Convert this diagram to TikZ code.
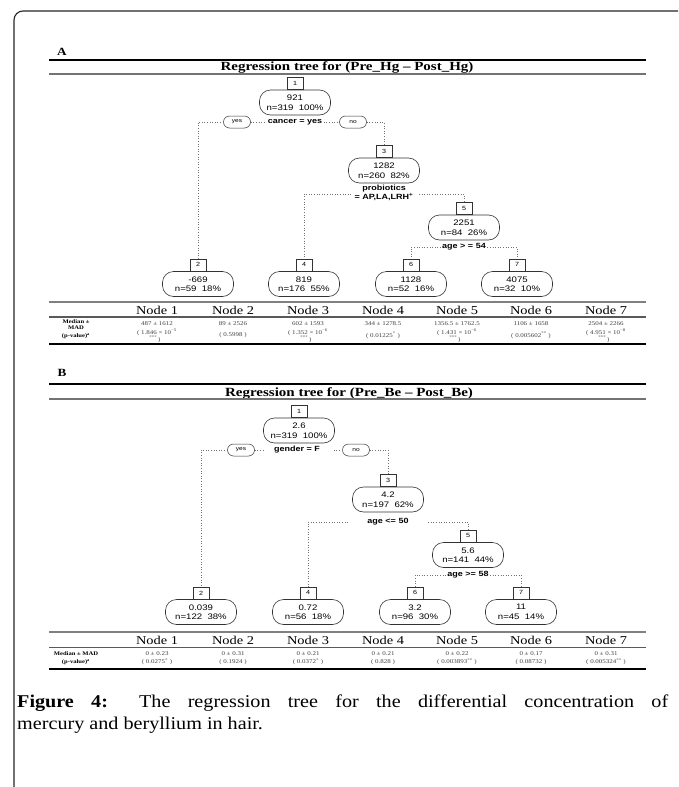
\documentclass[tikz,border=0pt]{standalone}
\usepackage{fontspec}
\setmainfont{Liberation Serif}
\newfontfamily\sansS[FakeStretch=1.2]{Liberation Sans}
\newfontfamily\serS[FakeStretch=1.2]{Liberation Serif}
\newfontfamily\capS[FakeStretch=1.12]{Liberation Serif}
\begin{document}
\begin{tikzpicture}[x=1pt,y=-1pt,
  treenode/.style={draw=black!80, line width=0.6pt, rounded corners=11pt, minimum width=71pt, minimum height=25pt, inner sep=0pt, align=center, font=\sansS\fontsize{8}{9.5}\selectfont},
  numbox/.style={draw=black!80, line width=0.6pt, minimum width=16pt, minimum height=12pt, inner sep=0pt, font=\sansS\fontsize{6}{7}\selectfont},
  pill/.style={draw=black!80, line width=0.5pt, rounded corners=6pt, minimum width=27pt, minimum height=12pt, inner sep=0pt, font=\sansS\fontsize{5.5}{6}\selectfont},
  splitlbl/.style={inner sep=1.5pt, align=center, font=\sansS\bfseries\fontsize{7.5}{8.5}\selectfont},
  dotline/.style={draw=black!55, dotted, line width=0.6pt},
  panellbl/.style={inner sep=0pt, font=\serS\bfseries\fontsize{11}{12}\selectfont},
  ttl/.style={inner sep=0pt, font=\serS\bfseries\fontsize{12.5}{13}\selectfont},
  hdr/.style={inner sep=0pt, font=\serS\fontsize{12}{13}\selectfont},
  cell/.style={inner sep=0pt, align=center, text=black!75, font=\serS\fontsize{5.8}{6.8}\selectfont},
  rowlbl/.style={inner sep=0pt, align=center, font=\serS\bfseries\fontsize{5.5}{6.3}\selectfont},
  thickrule/.style={line width=2pt, black},
  thinrule/.style={line width=1.2pt, black!55},
  toprule/.style={line width=1.5pt, black!50},
  midrule/.style={line width=1.8pt, black!65},
  botrule/.style={line width=2.5pt, black},
  captxt/.style={anchor=base west, inner sep=0pt, font=\capS\fontsize{18}{21}\selectfont}
]
\fill[white] (0,0) rectangle (678,787);
\useasboundingbox (0,0) rectangle (678,787);
% outer frame (top and left only)
\draw[line width=1.1pt, black!85, rounded corners=9pt] (14,787) -- (14,11) -- (678,11);

%================ PANEL A =================
\node[panellbl] (labA) at (62,52) {A};
\draw[thickrule] (49,60) -- (646,60);
\node[ttl] (titA) at (347,67) {Regression tree for (Pre\_Hg – Post\_Hg)};
\draw[thinrule] (49,74) -- (646,74);

\node[treenode] (A1) at (295,102.5) {921\\n=319\ \ 100\%};
\node[numbox, anchor=south] (A1b) at (A1.north) {1};
\node[splitlbl] (A1s) at (295,122) {cancer = yes};
\node[pill] (A1y) at (237,122) {yes};
\node[pill] (A1n) at (353,122) {no};

\node[treenode] (A3) at (384,170.5) {1282\\n=260\ \ 82\%};
\node[numbox, anchor=south] (A3b) at (A3.north) {3};
\node[splitlbl] (A3s) at (384,193) {probiotics\\= AP,LA,LRH\textsuperscript{+}};

\node[treenode] (A5) at (464,227.5) {2251\\n=84\ \ 26\%};
\node[numbox, anchor=south] (A5b) at (A5.north) {5};
\node[splitlbl] (A5s) at (464,247) {age > = 54};

\node[treenode] (A2) at (198,284) {-669\\n=59\ \ 18\%};
\node[numbox, anchor=south] (A2b) at (A2.north) {2};
\node[treenode] (A4) at (304,284) {819\\n=176\ \ 55\%};
\node[numbox, anchor=south] (A4b) at (A4.north) {4};
\node[treenode] (A6) at (411,284) {1128\\n=52\ \ 16\%};
\node[numbox, anchor=south] (A6b) at (A6.north) {6};
\node[treenode] (A7) at (517,284) {4075\\n=32\ \ 10\%};
\node[numbox, anchor=south] (A7b) at (A7.north) {7};

\coordinate (A1L) at (198,122);
\coordinate (A1R) at (384,122);
\coordinate (A3L) at (304,194);
\coordinate (A3R) at (464,194);
\coordinate (A5L) at (411,247);
\coordinate (A5R) at (517,247);
\draw[dotline] (A1y.west) -- (A1L) -- (A2b.north);
\draw[dotline] (A1y.east) -- (A1s.west);
\draw[dotline] (A1s.east) -- (A1n.west);
\draw[dotline] (A1n.east) -- (A1R) -- (A3b.north);
\draw[dotline] ([xshift=-2pt]A3s.west |- A3L) -- (A3L) -- (A4b.north);
\draw[dotline] ([xshift=4pt]A3s.east |- A3R) -- (A3R) -- (A5b.north);
\draw[dotline] (A5s.west) -- (A5L) -- (A6b.north);
\draw[dotline] (A5s.east) -- (A5R) -- (A7b.north);

% table A
\draw[toprule] (49,302) -- (646,302);
\node[hdr] (AH1) at (157,310) {Node 1};
\node[hdr] (AH2) at (233,310) {Node 2};
\node[hdr] (AH3) at (308,310) {Node 3};
\node[hdr] (AH4) at (383,310) {Node 4};
\node[hdr] (AH5) at (457,310) {Node 5};
\node[hdr] (AH6) at (531,310) {Node 6};
\node[hdr] (AH7) at (606,310) {Node 7};
\draw[midrule] (49,317) -- (646,317);
\node[rowlbl] (ARa) at (76,324.5) {Median ±\\MAD};
\node[rowlbl] (ARb) at (76,336.5) {(p-value)\textsuperscript{a}};
\node[cell] (AM1) at (157,324) {487 ± 1612};
\node[cell] (AM2) at (233,324) {89 ± 2526};
\node[cell] (AM3) at (308,324) {602 ± 1593};
\node[cell] (AM4) at (383,324) {344 ± 1278.5};
\node[cell] (AM5) at (457,324) {1356.5 ± 1762.5};
\node[cell] (AM6) at (531,324) {1106 ± 1658};
\node[cell] (AM7) at (606,324) {2504 ± 2266};
\node[cell] (AP1) at (157,332.5) {( 1.846 × 10\textsuperscript{−5}};
\node[cell] (AP1s) at (155,339.5) {\textsuperscript{***}\,)};
\node[cell] (AP2) at (233,335.5) {( 0.5998 )};
\node[cell] (AP3) at (308,332.5) {( 1.352 × 10\textsuperscript{−6}};
\node[cell] (AP3s) at (306,339.5) {\textsuperscript{***}\,)};
\node[cell] (AP4) at (383,335.5) {( 0.01225\textsuperscript{*} )};
\node[cell] (AP5) at (457,332.5) {( 1.431 × 10\textsuperscript{−6}};
\node[cell] (AP5s) at (455,339.5) {\textsuperscript{***}\,)};
\node[cell] (AP6) at (531,335.5) {( 0.005602\textsuperscript{**} )};
\node[cell] (AP7) at (606,332.5) {( 4.951 × 10\textsuperscript{−8}};
\node[cell] (AP7s) at (604,339.5) {\textsuperscript{***}\,)};
\draw[botrule] (49,344) -- (646,344);

%================ PANEL B =================
\node[panellbl] (labB) at (62,373) {B};
\draw[thickrule] (49,384) -- (646,384);
\node[ttl] (titB) at (349,393) {Regression tree for (Pre\_Be – Post\_Be)};
\draw[thinrule] (49,399) -- (646,399);

\node[treenode] (B1) at (299,430.5) {2.6\\n=319\ \ 100\%};
\node[numbox, anchor=south] (B1b) at (B1.north) {1};
\node[splitlbl] (B1s) at (297,450) {gender = F};
\node[pill] (B1y) at (241,450) {yes};
\node[pill] (B1n) at (356,450) {no};

\node[treenode] (B3) at (388,499.5) {4.2\\n=197\ \ 62\%};
\node[numbox, anchor=south] (B3b) at (B3.north) {3};
\node[splitlbl] (B3s) at (388,522) {age <= 50};

\node[treenode] (B5) at (468,555) {5.6\\n=141\ \ 44\%};
\node[numbox, anchor=south] (B5b) at (B5.north) {5};
\node[splitlbl] (B5s) at (468,575) {age >= 58};

\node[treenode] (B2) at (201,612) {0.039\\n=122\ \ 38\%};
\node[numbox, anchor=south] (B2b) at (B2.north) {2};
\node[treenode] (B4) at (308,612) {0.72\\n=56\ \ 18\%};
\node[numbox, anchor=south] (B4b) at (B4.north) {4};
\node[treenode] (B6) at (415,612) {3.2\\n=96\ \ 30\%};
\node[numbox, anchor=south] (B6b) at (B6.north) {6};
\node[treenode] (B7) at (521,612) {11\\n=45\ \ 14\%};
\node[numbox, anchor=south] (B7b) at (B7.north) {7};

\coordinate (B1L) at (201,450);
\coordinate (B1R) at (388,450);
\coordinate (B3L) at (308,522);
\coordinate (B3R) at (468,522);
\coordinate (B5L) at (415,575);
\coordinate (B5R) at (521,575);
\draw[dotline] (B1y.west) -- (B1L) -- (B2b.north);
\draw[dotline] (B1y.east) -- ++(9,0);
\draw[dotline] (B1n.west) -- ++(-9,0);
\draw[dotline] (B1n.east) -- (B1R) -- (B3b.north);
\draw[dotline] ([xshift=-18pt]B3s.west) -- (B3L) -- (B4b.north);
\draw[dotline] ([xshift=18pt]B3s.east) -- (B3R) -- (B5b.north);
\draw[dotline] (B5s.west) -- (B5L) -- (B6b.north);
\draw[dotline] (B5s.east) -- (B5R) -- (B7b.north);

% table B
\draw[toprule] (49,632) -- (646,632);
\node[hdr] (BH1) at (157,640.5) {Node 1};
\node[hdr] (BH2) at (233,640.5) {Node 2};
\node[hdr] (BH3) at (308,640.5) {Node 3};
\node[hdr] (BH4) at (383,640.5) {Node 4};
\node[hdr] (BH5) at (457,640.5) {Node 5};
\node[hdr] (BH6) at (531,640.5) {Node 6};
\node[hdr] (BH7) at (606,640.5) {Node 7};
\draw[midrule] (49,647.5) -- (646,647.5);
\node[rowlbl] (BRa) at (76,654) {Median ± MAD};
\node[rowlbl] (BRb) at (76,662) {(p-value)\textsuperscript{a}};
\node[cell] (BM1) at (157,654) {0 ± 0.23};
\node[cell] (BM2) at (233,654) {0 ± 0.31};
\node[cell] (BM3) at (308,654) {0 ± 0.21};
\node[cell] (BM4) at (383,654) {0 ± 0.21};
\node[cell] (BM5) at (457,654) {0 ± 0.22};
\node[cell] (BM6) at (531,654) {0 ± 0.17};
\node[cell] (BM7) at (606,654) {0 ± 0.31};
\node[cell] (BP1) at (157,662) {( 0.0275\textsuperscript{*} )};
\node[cell] (BP2) at (233,662) {( 0.1924 )};
\node[cell] (BP3) at (308,662) {( 0.0372\textsuperscript{*} )};
\node[cell] (BP4) at (383,662) {( 0.828 )};
\node[cell] (BP5) at (457,662) {( 0.003893\textsuperscript{**} )};
\node[cell] (BP6) at (531,662) {( 0.08732 )};
\node[cell] (BP7) at (606,662) {( 0.005324\textsuperscript{**} )};
\draw[botrule] (49,669) -- (646,669);

%================ CAPTION =================
\node[captxt] (cap1) at (17,707)
  {\makebox[651pt][s]{\textbf{Figure 4:} The regression tree for the differential concentration of}};
\node[captxt] (cap2) at (17,729)
  {mercury and beryllium in hair.};
\end{tikzpicture}
\end{document}
